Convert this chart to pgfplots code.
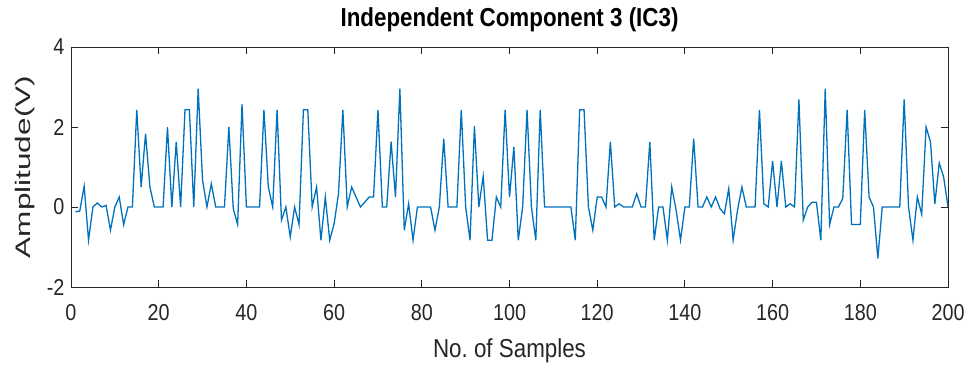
\documentclass[border=0pt]{standalone}
\usepackage{fontspec}
\setmainfont[FakeStretch=0.86]{Liberation Sans}
\newfontfamily\ylabfont{Liberation Sans}
\usepackage{pgfplots}
\pgfplotsset{compat=1.18}
\usepackage{pgfplotstable}

\definecolor{mblue}{rgb}{0,0.447,0.741}
\definecolor{axgray}{gray}{0.15}

% Samples of the third independent component
\pgfplotstableread{
x y
1 -0.12
2 -0.10
3 0.52
4 -0.83
5 0
6 0.10
7 0
8 0.04
9 -0.58
10 0
11 0.25
12 -0.44
13 0
14 0
15 2.43
16 0.50
17 1.83
18 0.50
19 0
20 0
21 0
22 2.00
23 0
24 1.63
25 0
26 2.43
27 2.43
28 0
29 2.96
30 0.67
31 0
32 0.58
33 0
34 0
35 0
36 2.00
37 -0.04
38 -0.44
39 2.57
40 0
41 0
42 0
43 0
44 2.43
45 0.50
46 0
47 2.43
48 -0.33
49 0
50 -0.75
51 0
52 -0.44
53 2.43
54 2.43
55 0
56 0.50
57 -0.83
58 0.25
59 -0.83
60 -0.42
61 0.33
62 2.43
63 0
64 0.50
65 0.25
66 0
67 0.12
68 0.25
69 0.25
70 2.43
71 0
72 0
73 1.63
74 0.25
75 2.96
76 -0.58
77 0.08
78 -0.83
79 0
80 0
81 0
82 0
83 -0.58
84 0
85 1.71
86 0
87 0
88 0
89 2.43
90 0
91 -0.83
92 2.02
93 0
94 0.77
95 -0.83
96 -0.83
97 0.25
98 0
99 2.43
100 0.25
101 1.50
102 -0.83
103 0
104 2.43
105 0
106 -0.83
107 2.43
108 0
109 0
110 0
111 0
112 0
113 0
114 0
115 -0.83
116 2.43
117 2.43
118 0
119 -0.58
120 0.25
121 0.25
122 0
123 1.63
124 0
125 0.08
126 0
127 0
128 0
129 0.33
130 0
131 0
132 1.63
133 -0.83
134 0
135 0
136 -0.83
137 0.50
138 -0.08
139 -0.83
140 0
141 0
142 1.71
143 0
144 0
145 0.25
146 0
147 0.25
148 -0.04
149 -0.17
150 0.46
151 -0.83
152 -0.08
153 0.50
154 0
155 0
156 0
157 2.43
158 0.08
159 0
160 1.15
161 0
162 1.15
163 0
164 0.08
165 0
166 2.69
167 -0.33
168 0
169 0.12
170 0.12
171 -0.83
172 2.96
173 -0.44
174 0
175 0
176 0.21
177 2.43
178 -0.44
179 -0.44
180 -0.44
181 2.43
182 0.25
183 0
184 -1.28
185 0
186 0
187 0
188 0
189 0
190 2.69
191 0
192 -0.83
193 0.25
194 -0.18
195 2.00
196 1.63
197 0.08
198 1.10
199 0.75
200 0
}\icthree

\begin{document}
\begin{tikzpicture}
\begin{axis}[
  name=ax,
  scale only axis,
  width=877pt, height=240pt,
  xmin=0, xmax=200, ymin=-2, ymax=4,
  xtick={0,20,...,200},
  ytick={-2,0,2,4},
  tick align=inside,
  major tick length=7pt,
  axis line style={axgray, line width=0.9pt},
  every tick/.style={axgray, line width=0.9pt},
  /pgf/number format/assume math mode=true,
  ticklabel style={font=\fontsize{23}{27}\selectfont, text=axgray},
  xticklabel style={yshift=-14pt},
  yticklabel style={xshift=-3pt},
  title={\bfseries Independent Component 3 (IC3)},
  title style={at={(axis description cs:0.5,1)}, anchor=base, yshift=14pt,
    font=\fontsize{26}{30}\selectfont, text=black},
  xlabel={No.\ of Samples},
  xlabel style={at={(axis description cs:0.5,0)}, anchor=base, yshift=-71pt,
    font=\fontsize{26}{30}\selectfont, text=axgray},
  ylabel={\scalebox{1.5}[1]{\ylabfont\fontsize{21}{25}\selectfont Amplitude(V)}},
  ylabel style={at={(axis description cs:0,0.5)}, anchor=center, yshift=46pt,
    text=axgray},
]
\addplot[mblue, line width=1.3pt] table[x=x, y=y] {\icthree};
\end{axis}
\pgfresetboundingbox
\path ([shift={(-71pt,-91pt)}]ax.south west) rectangle ([shift={(25pt,47pt)}]ax.north east);
\end{tikzpicture}
\end{document}
